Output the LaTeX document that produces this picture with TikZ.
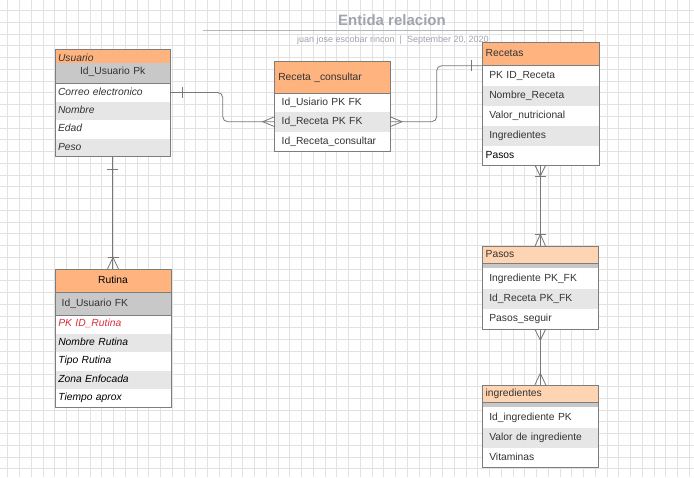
\documentclass[tikz,border=0pt]{standalone}
\usepackage{fontspec}
\setmainfont{Liberation Sans}
\usetikzlibrary{calc}
\definecolor{hdr}{RGB}{255,180,128}
\definecolor{lhdr}{RGB}{255,212,178}
\definecolor{idg}{RGB}{200,200,200}
\definecolor{rowg}{RGB}{230,230,230}
\definecolor{bord}{RGB}{125,125,125}
\definecolor{txt}{RGB}{51,51,51}
\definecolor{redt}{RGB}{222,45,60}
\definecolor{ttl}{RGB}{160,164,174}
\definecolor{gridc}{RGB}{226,226,226}
\definecolor{connc}{RGB}{120,120,120}
\tikzset{
  gridl/.style={draw=gridc, line width=0.7pt},
  rw/.style={anchor=north west, inner ysep=0pt, outer sep=0pt, text height=7.4pt, text depth=2.2pt,
    font=\fontsize{10.3}{12}\selectfont, text=txt, align=left},
  ent/.style={draw=bord, line width=0.9pt, anchor=north west, inner sep=0pt, outer sep=0pt},
  sepl/.style={draw=bord, line width=0.8pt},
  conn/.style={draw=connc, line width=0.8pt},
}
\newcommand{\ERrow}[8]{%
  \pgfmathsetmacro{\ERtw}{#4-2*#7}%
  \node[rw, #6, minimum height=#5pt, text width=\ERtw pt, inner xsep=#7pt] (#1) at (#2,#3) {#8};}
\begin{document}
\begin{tikzpicture}[x=1pt,y=-1pt]
\useasboundingbox (0,0) rectangle (694,477);
\fill[white] (0,0) rectangle (694,477);
\foreach \i in {0,...,59} { \draw[gridl] ({7.7+11.75*\i},0) -- ({7.7+11.75*\i},477); }
\foreach \j in {0,...,41} { \draw[gridl] (0,{10.55+11.75*\j}) -- (694,{10.55+11.75*\j}); }

% title
\node[font=\bfseries\fontsize{15}{18}\selectfont, text=ttl, inner sep=0pt] (title) at (392,20.5) {Entida relacion};
\coordinate (tl) at (203,30.7);
\coordinate (tr) at (583,30.7);
\draw[draw=ttl!80, line width=1.1pt] (tl) -- (tr);
\node[font=\fontsize{9}{11}\selectfont, text=ttl, anchor=west, inner sep=0pt] (sub) at (297,40.5)
  {juan jose escobar rincon\hspace{5pt}|\hspace{5pt}September 20, 2020};

% Usuario
\ERrow{u0}{55}{49}{115.5}{14.3}{fill=hdr}{3}{\raisebox{-2.5pt}{\itshape Usuario}}
\ERrow{u1}{55}{63.3}{115.5}{20}{fill=idg, align=center}{3}{\raisebox{1.5pt}{Id\_Usuario Pk}}
\ERrow{u2}{55}{83.3}{115.5}{18.4}{fill=white}{3}{\itshape Correo electronico}
\ERrow{u3}{55}{101.7}{115.5}{18.4}{fill=rowg}{3}{\itshape Nombre}
\ERrow{u4}{55}{120.1}{115.5}{18.4}{fill=white}{3}{\itshape Edad}
\ERrow{u5}{55}{138.5}{115.5}{18.2}{fill=rowg}{3}{\itshape Peso}
\draw[sepl] (u1.south west) -- (u1.south east);
\node[ent, minimum width=115.5pt, minimum height=107.7pt] (usuario) at (55,49) {};

% Rutina
\ERrow{ru0}{55}{269}{116}{23.3}{fill=hdr, align=center, text=black}{3}{Rutina}
\ERrow{ru1}{55}{292.3}{116}{22.7}{fill=idg}{6.7}{Id\_Usuario FK}
\ERrow{ru2}{55}{315}{116}{18.5}{fill=white, text=redt}{3.3}{\itshape PK ID\_Rutina}
\ERrow{ru3}{55}{333.5}{116}{18.5}{fill=rowg, text=black}{3.3}{\itshape Nombre Rutina}
\ERrow{ru4}{55}{352}{116}{18.5}{fill=white, text=black}{3.3}{\itshape Tipo Rutina}
\ERrow{ru5}{55}{370.5}{116}{18.5}{fill=rowg, text=black}{3.3}{\itshape Zona Enfocada}
\ERrow{ru6}{55}{389}{116}{18.5}{fill=white, text=black}{3.3}{\itshape Tiempo aprox}
\draw[sepl] (ru0.south west) -- (ru0.south east);
\draw[sepl] (ru1.south west) -- (ru1.south east);
\node[ent, minimum width=116pt, minimum height=138.5pt] (rutina) at (55,269) {};

% Receta_consultar
\ERrow{rc0}{274.7}{61.7}{115.3}{31.6}{fill=hdr}{3.6}{Receta \_consultar}
\ERrow{rc1}{274.7}{93.3}{115.3}{18.4}{fill=white}{7}{Id\_Usiario PK FK}
\ERrow{rc2}{274.7}{111.7}{115.3}{20}{fill=rowg}{7}{Id\_Receta PK FK}
\ERrow{rc3}{274.7}{131.7}{115.3}{20}{fill=white}{7}{Id\_Receta\_consultar}
\draw[sepl] (rc0.south west) -- (rc0.south east);
\node[ent, minimum width=115.3pt, minimum height=90pt] (rcons) at (274.7,61.7) {};

% Recetas
\ERrow{re0}{482.3}{42.3}{116.7}{23.4}{fill=hdr}{3.4}{Recetas}
\ERrow{re1}{482.3}{65.7}{116.7}{20.3}{fill=white}{7}{PK ID\_Receta}
\ERrow{re2}{482.3}{86}{116.7}{20}{fill=rowg}{7}{Nombre\_Receta}
\ERrow{re3}{482.3}{106}{116.7}{20}{fill=white}{7}{Valor\_nutricional}
\ERrow{re4}{482.3}{126}{116.7}{20}{fill=rowg}{7}{Ingredientes}
\ERrow{re5}{482.3}{146}{116.7}{19}{fill=white, text=black}{3.4}{Pasos}
\draw[sepl] (re0.south west) -- (re0.south east);
\node[ent, minimum width=116.7pt, minimum height=122.7pt] (recetas) at (482.3,42.3) {};

% Pasos
\ERrow{pa0}{482.3}{246.7}{116}{16.6}{fill=lhdr}{3.4}{Pasos}
\node[rw, fill=idg, draw=bord, line width=0.8pt, minimum width=116pt, minimum height=4.7pt, inner sep=0pt, text height=0pt, text depth=0pt] (pasep) at (482.3,263.3) {};
\ERrow{pa1}{482.3}{268}{116}{21}{fill=white}{7}{Ingrediente PK\_FK}
\ERrow{pa2}{482.3}{289}{116}{20}{fill=rowg}{7}{Id\_Receta PK\_FK}
\ERrow{pa3}{482.3}{309}{116}{20}{fill=white}{7}{Pasos\_seguir}
\node[ent, minimum width=116pt, minimum height=82.3pt] (pasos) at (482.3,246.7) {};

% ingredientes
\ERrow{in0}{482.3}{385}{116}{17.7}{fill=lhdr}{3.4}{ingredientes}
\node[rw, fill=idg, draw=bord, line width=0.8pt, minimum width=116pt, minimum height=4.3pt, inner sep=0pt, text height=0pt, text depth=0pt] (insep) at (482.3,402.7) {};
\ERrow{in1}{482.3}{407}{116}{21}{fill=white}{7}{Id\_ingrediente PK}
\ERrow{in2}{482.3}{428}{116}{20}{fill=rowg}{7}{Valor de ingrediente}
\ERrow{in3}{482.3}{448}{116}{19.7}{fill=white}{7}{Vitaminas}
\node[ent, minimum width=116pt, minimum height=82.7pt] (ingr) at (482.3,385) {};

% connector Usuario -> Receta_consultar
\draw[conn, rounded corners=5pt] (u2.east) -- ++(52.2,0) |- (rc2.west);
\draw[conn] ([xshift=11.5pt,yshift=5.5pt]u2.east) -- ([xshift=11.5pt,yshift=-5.5pt]u2.east);
\draw[conn] ([yshift=5pt]rc2.west) -- ([xshift=-12pt]rc2.west) -- ([yshift=-5pt]rc2.west);

% connector Receta_consultar -> Recetas
\draw[conn, rounded corners=5pt] (rc2.east) -- ++(46.7,0) |- (re1.north west);
\draw[conn] ([yshift=5pt]rc2.east) -- ([xshift=12pt]rc2.east) -- ([yshift=-5pt]rc2.east);
\draw[conn] ([xshift=-11.3pt,yshift=5.5pt]re1.north west) -- ([xshift=-11.3pt,yshift=-5.5pt]re1.north west);

% connector Usuario -> Rutina
\draw[conn] (usuario.south) -- (usuario.south |- rutina.north);
\draw[conn] ([xshift=-5.5pt,yshift=-12.3pt]usuario.south) -- ([xshift=5.5pt,yshift=-12.3pt]usuario.south);
\draw[conn] ([xshift=-5.5pt,yshift=11.7pt]rutina.north) -- ([xshift=5.5pt,yshift=11.7pt]rutina.north);
\draw[conn] ([xshift=-5.5pt]rutina.north) -- ([yshift=11.7pt]rutina.north) -- ([xshift=5.5pt]rutina.north);

% connector Recetas -> Pasos
\draw[conn] (pasos.north |- recetas.south) -- (pasos.north);
\draw[conn] ([xshift=-5.5pt]pasos.north |- recetas.south) -- ([yshift=-11pt]pasos.north |- recetas.south) -- ([xshift=5.5pt]pasos.north |- recetas.south);
\draw[conn] ([xshift=-5.5pt,yshift=-11.7pt]pasos.north |- recetas.south) -- ([xshift=5.5pt,yshift=-11.7pt]pasos.north |- recetas.south);
\draw[conn] ([xshift=-5.5pt,yshift=12.5pt]pasos.north) -- ([xshift=5.5pt,yshift=12.5pt]pasos.north);
\draw[conn] ([xshift=-5.5pt]pasos.north) -- ([yshift=12.5pt]pasos.north) -- ([xshift=5.5pt]pasos.north);

% connector Pasos -> ingredientes
\draw[conn] (pasos.south) -- (ingr.north);
\draw[conn] ([xshift=-5.5pt]pasos.south) -- ([yshift=-11pt]pasos.south) -- ([xshift=5.5pt]pasos.south);
\draw[conn] ([xshift=-5.5pt]ingr.north) -- ([yshift=11.7pt]ingr.north) -- ([xshift=5.5pt]ingr.north);
\end{tikzpicture}
\end{document}
